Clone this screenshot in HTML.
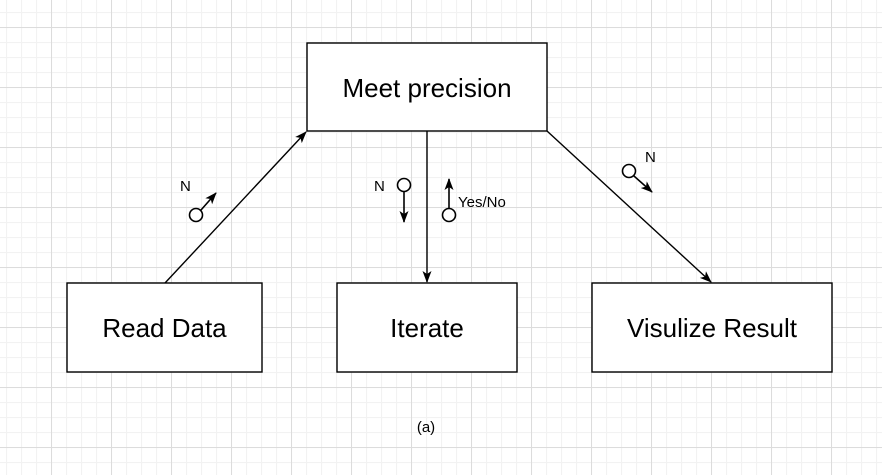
<!DOCTYPE html>
<html><head><meta charset="utf-8"><style>
html,body{margin:0;padding:0;background:#fff}
svg{display:block;font-family:"Liberation Sans",Arial,sans-serif}
</style></head><body>
<svg width="882" height="475" viewBox="0 0 882 475">
<defs>
<pattern id="minor" x="6" y="12" width="15" height="15" patternUnits="userSpaceOnUse">
<path d="M0.5 0V15M0 0.5H15" stroke="#f2f2f2" stroke-width="1.2" fill="none"/>
</pattern>
<pattern id="major" x="51" y="27" width="60" height="60" patternUnits="userSpaceOnUse">
<path d="M0.5 0V60M0 0.5H60" stroke="#dcdcdc" stroke-width="1" fill="none"/>
</pattern>
<marker id="ah" markerWidth="12" markerHeight="12" refX="11" refY="6" orient="auto" markerUnits="userSpaceOnUse">
<path d="M0 1.5L12 6L0 10.5L3 6Z" fill="#000"/>
</marker>
</defs>
<rect width="882" height="475" fill="url(#minor)"/>
<rect width="882" height="475" fill="url(#major)"/>

<g fill="none" stroke="#000" stroke-width="1.4">
<line x1="165" y1="283" x2="306" y2="132" marker-end="url(#ah)"/>
<line x1="427" y1="131" x2="427" y2="282" marker-end="url(#ah)"/>
<line x1="547" y1="131" x2="711" y2="282" marker-end="url(#ah)"/>
</g>

<g fill="#fff" stroke="#000" stroke-width="1.4">
<rect x="307" y="43" width="240" height="88"/>
<rect x="67" y="283" width="195" height="89"/>
<rect x="337" y="283" width="180" height="89"/>
<rect x="592" y="283" width="240" height="89"/>
</g>
<g font-size="26" text-anchor="middle" fill="#000">
<text x="427" y="97">Meet precision</text>
<text x="164.5" y="337">Read Data</text>
<text x="427" y="337">Iterate</text>
<text x="712" y="337">Visulize Result</text>
</g>

<g stroke="#000" stroke-width="1.6" fill="#fff">
<circle cx="196" cy="215" r="6.5"/>
<line x1="201" y1="210" x2="216" y2="193" marker-end="url(#ah)"/>
<circle cx="404" cy="185" r="6.5"/>
<line x1="404" y1="191.5" x2="404" y2="222" marker-end="url(#ah)"/>
<circle cx="449" cy="215" r="6.5"/>
<line x1="449" y1="208.5" x2="449" y2="179" marker-end="url(#ah)"/>
<circle cx="629" cy="171" r="6.5"/>
<line x1="634" y1="176" x2="652" y2="192" marker-end="url(#ah)"/>
</g>
<g font-size="15" fill="#000">
<text x="180" y="191">N</text>
<text x="374" y="191">N</text>
<text x="458" y="207">Yes/No</text>
<text x="645" y="162">N</text>
<text x="426" y="432" text-anchor="middle">(a)</text>
</g>
</svg>
</body></html>
